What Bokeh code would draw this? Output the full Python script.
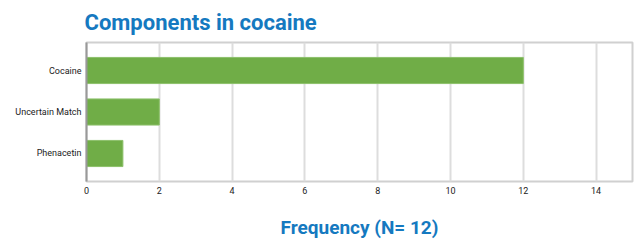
from bokeh.plotting import figure
from bokeh.models import FixedTicker, Range1d
from bokeh.embed import file_html
from bokeh.resources import INLINE

categories = ["Phenacetin", "Uncertain Match", "Cocaine"]
counts = [1, 2, 12]
x_ticks = [0, 2, 4, 6, 8, 10, 12, 14]

p = figure(y_range=categories, x_range=Range1d(0, 15),
           frame_width=546, frame_height=139, output_backend="svg", toolbar_location=None,
           title="Components in cocaine", min_border_left=86, min_border_right=5,
           min_border_top=0, min_border_bottom=0)
p.y_range.range_padding = 0.175
p.y_range.range_padding_units = "absolute"
p.hbar(y=categories, right=counts, height=0.63, left=0, color="#70ad47", line_color="#8cc06a", line_width=1)

p.title.text_font = "Roboto"
p.title.text_font_style = "bold"
p.title.text_font_size = "22px"
p.title.text_color = "#1579c0"
p.title.offset = -2
p.title.standoff = 15

p.outline_line_color = "#d0d0d0"
p.outline_line_width = 2

p.xaxis.ticker = FixedTicker(ticks=x_ticks)
p.xaxis.axis_line_color = None
p.xaxis.major_tick_line_color = None
p.xaxis.minor_tick_line_color = None
p.xaxis.major_tick_in = 0
p.xaxis.major_tick_out = 0
p.xaxis.major_label_text_font = "Roboto"
p.xaxis.major_label_text_font_size = "9px"
p.xaxis.major_label_text_color = "#222222"
p.xaxis.major_label_standoff = 5
p.xaxis.axis_label = "Frequency (N= 12)"
p.xaxis.axis_label_text_font = "Roboto"
p.xaxis.axis_label_text_font_style = "bold"
p.xaxis.axis_label_text_font_size = "19px"
p.xaxis.axis_label_text_color = "#1579c0"
p.xaxis.axis_label_standoff = 19

p.yaxis.axis_line_color = "#999999"
p.yaxis.axis_line_width = 2
p.yaxis.major_tick_line_color = None
p.yaxis.minor_tick_line_color = None
p.yaxis.major_tick_in = 0
p.yaxis.major_tick_out = 0
p.yaxis.major_label_text_font = "Roboto"
p.yaxis.major_label_text_font_size = "9px"
p.yaxis.major_label_text_color = "#222222"
p.yaxis.major_label_standoff = 5

p.xgrid.grid_line_color = "#dddddd"
p.xgrid.grid_line_width = 2
p.ygrid.grid_line_color = None

open("out.html", "w").write(file_html(p, INLINE))
